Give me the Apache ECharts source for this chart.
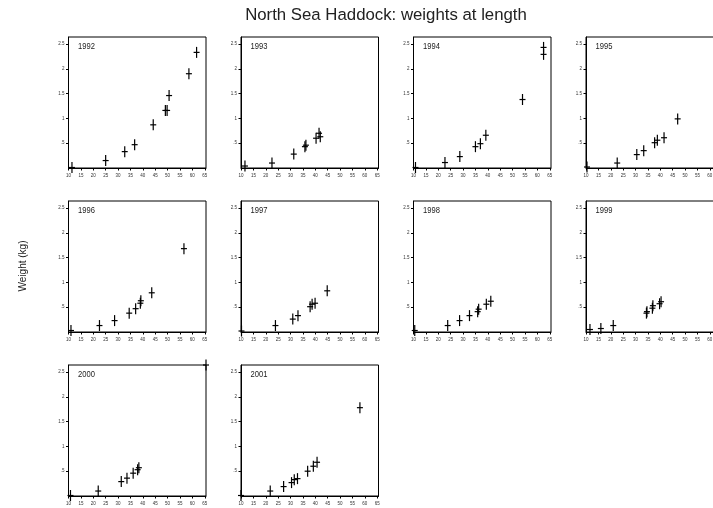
<!DOCTYPE html>
<html>
<head>
<meta charset="utf-8">
<script src="https://cdn.jsdelivr.net/npm/echarts@6/dist/echarts.min.js"></script>
<style>
  html, body { margin: 0; padding: 0; background: #fff; }
  #chart { width: 713px; height: 508px; }
</style>
</head>
<body>
<div id="chart"></div>
<script>
// Mean weight (kg) at length (cm), one small-multiple panel per survey year
const years = ['1992', '1993', '1994', '1995', '1996', '1997', '1998', '1999', '2000', '2001'];

const w1992 = [[11.4, 0.01], [25.0, 0.15], [32.7, 0.33], [36.7, 0.47], [44.2, 0.87], [49.1, 1.16], [49.8, 1.16], [50.6, 1.46], [58.6, 1.90], [61.7, 2.33]];
const w1993 = [[11.6, 0.04], [22.5, 0.10], [31.3, 0.28], [35.8, 0.43], [36.2, 0.46], [40.3, 0.60], [41.5, 0.70], [42.0, 0.63]];
const w1994 = [[10.8, 0.01], [22.7, 0.11], [28.7, 0.23], [35.0, 0.43], [37.0, 0.49], [39.2, 0.66], [54.0, 1.38], [62.5, 2.29], [62.5, 2.43]];
const w1995 = [[10.4, 0.02], [22.6, 0.10], [30.5, 0.27], [33.3, 0.35], [37.7, 0.51], [38.8, 0.56], [41.5, 0.61], [47.0, 0.99]];
const w1996 = [[11.0, 0.03], [22.5, 0.13], [28.6, 0.23], [34.5, 0.38], [37.1, 0.47], [39.0, 0.58], [39.2, 0.63], [43.6, 0.79], [56.6, 1.68]];
const w1997 = [[10.2, 0.02], [23.9, 0.13], [30.9, 0.26], [33.0, 0.33], [37.9, 0.51], [38.7, 0.56], [39.9, 0.58], [44.8, 0.83]];
const w1998 = [[10.5, 0.03], [23.8, 0.13], [28.6, 0.23], [32.6, 0.33], [35.9, 0.41], [36.3, 0.46], [39.4, 0.56], [41.2, 0.62]];
const w1999 = [[11.6, 0.05], [16.0, 0.07], [21.0, 0.13], [34.4, 0.38], [34.6, 0.41], [36.8, 0.48], [37.0, 0.53], [39.7, 0.57], [40.3, 0.61]];
const w2000 = [[10.8, 0.01], [22.0, 0.10], [31.3, 0.29], [33.6, 0.36], [36.1, 0.46], [37.9, 0.53], [38.4, 0.57], [65.5, 2.64]];
const w2001 = [[10.0, 0.01], [21.8, 0.10], [27.2, 0.19], [30.4, 0.27], [31.5, 0.33], [32.8, 0.35], [36.9, 0.50], [39.2, 0.60], [40.7, 0.68], [58.0, 1.78]];

const panelData = [w1992, w1993, w1994, w1995, w1996, w1997, w1998, w1999, w2000, w2001];

// Axis ticks
const lengthTicks = [10, 15, 20, 25, 30, 35, 40, 45, 50, 55, 60, 65];
const weightTicks = [0.5, 1, 1.5, 2, 2.5];
const weightTickLabels = ['.5', '1', '1.5', '2', '2.5'];

const FONT = '"Liberation Sans", Arial, sans-serif';

const chart = echarts.init(document.getElementById('chart'), null, { renderer: 'canvas' });

// Each point: mean weight as a short horizontal bar, with a vertical bar through it
function renderCross(params, api) {
  const p = api.coord([api.value(0), api.value(1)]);
  const st = { stroke: '#000', lineWidth: 1.2 };
  return {
    type: 'group',
    children: [
      { type: 'line', shape: { x1: p[0], y1: p[1] - 5.5, x2: p[0], y2: p[1] + 5.5 }, style: st },
      { type: 'line', shape: { x1: p[0] - 3, y1: p[1], x2: p[0] + 3, y2: p[1] }, style: st }
    ]
  };
}

const PANEL_W = 137.5, PANEL_H = 131;
const grids = [], xAxes = [], yAxes = [], series = [], yearLabels = [];
years.forEach((yr, i) => {
  const col = i % 4, row = Math.floor(i / 4);
  const left = 68.5 + col * 172.5;
  const top = 37 + row * 164;
  grids.push({
    left: left, top: top, width: PANEL_W, height: PANEL_H,
    outerBoundsMode: 'none', containLabel: false,
    show: true, borderColor: '#000', borderWidth: 1, backgroundColor: 'transparent'
  });
  xAxes.push({
    type: 'value', gridIndex: i, min: 10, max: 65.5,
    axisLine: { show: true, onZero: false, lineStyle: { color: '#000', width: 1 } },
    axisTick: { show: true, length: 2.5, customValues: lengthTicks, lineStyle: { color: '#000' } },
    axisLabel: { customValues: lengthTicks, fontSize: 4.5, margin: 5, color: '#333', fontFamily: FONT },
    splitLine: { show: false }
  });
  yAxes.push({
    type: 'value', gridIndex: i, min: 0, max: 2.64,
    axisLine: { show: true, onZero: false, lineStyle: { color: '#000', width: 1 } },
    axisTick: { show: true, length: 2.5, customValues: weightTicks, lineStyle: { color: '#000' } },
    axisLabel: {
      customValues: weightTicks, fontSize: 4.5, margin: 4, color: '#333', fontFamily: FONT,
      formatter: v => weightTickLabels[weightTicks.indexOf(v)] ?? ''
    },
    splitLine: { show: false }
  });
  series.push({
    type: 'custom', name: yr, xAxisIndex: i, yAxisIndex: i,
    clip: false, silent: true,
    renderItem: renderCross,
    data: panelData[i]
  });
  // Year caption in the panel's top-left corner, slightly condensed
  yearLabels.push({
    type: 'text', x: left + 9.5, y: top + 4.5, scaleX: 0.8,
    style: { text: yr, fontSize: 9.5, fill: '#222', fontFamily: FONT, textAlign: 'left', textVerticalAlign: 'top' }
  });
});

chart.setOption({
  animation: false,
  backgroundColor: '#fff',
  grid: grids,
  xAxis: xAxes,
  yAxis: yAxes,
  series: series,
  graphic: [
    {
      type: 'text', x: 386, y: 7,
      style: { text: 'North Sea Haddock: weights at length', fontSize: 16.8, fill: '#222', fontFamily: FONT, textAlign: 'center', textVerticalAlign: 'top' }
    },
    {
      type: 'text', x: 23, y: 266, rotation: Math.PI / 2,
      style: { text: 'Weight (kg)', fontSize: 10, fill: '#222', fontFamily: FONT, textAlign: 'center', textVerticalAlign: 'middle' }
    }
  ].concat(yearLabels)
});
</script>
</body>
</html>
